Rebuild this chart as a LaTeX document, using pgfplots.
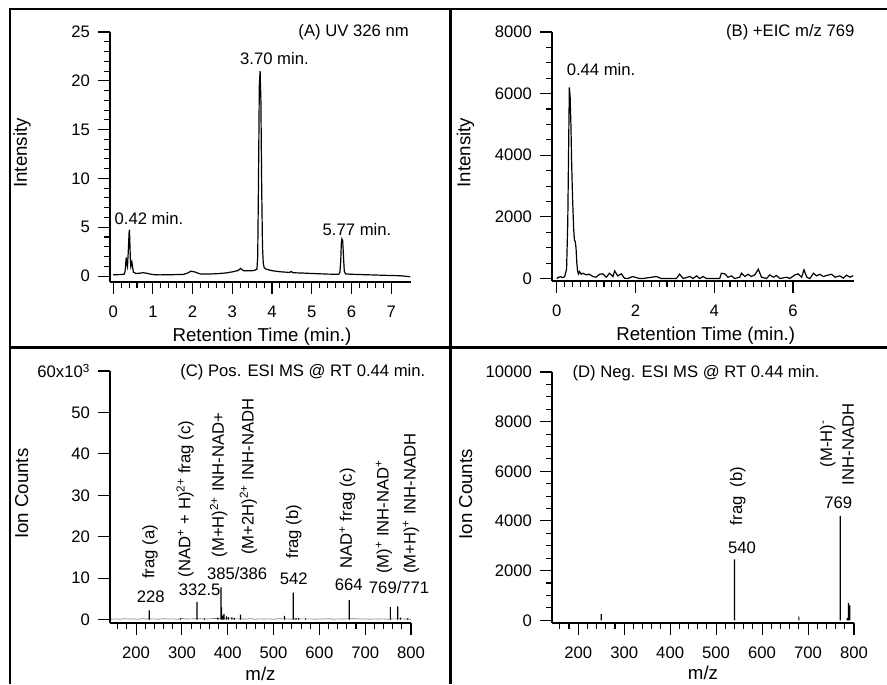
\documentclass[border=0pt]{standalone}
\usepackage{fontspec}
\setmainfont{Liberation Sans}
\usepackage{pgfplots}
\pgfplotsset{compat=1.18}

\newcommand\af{\fontsize{12.5}{14}\selectfont}

% Igor-like look: open axes, ticks outside
\pgfplotsset{
  igor/.style={
    scale only axis, clip=false,
    axis x line=bottom, axis y line=left,
    axis line style={-, line width=1.1pt},
    tick align=outside,
    major tick length=9pt, minor tick length=4.5pt,
    every tick/.style={black, line width=0.8pt},
    tick label style={font=\af},
    label style={font=\fontsize{14}{16}\selectfont},
    xticklabel style={yshift=-5.5pt},
    yticklabel style={xshift=-2.5pt},
    /pgf/number format/assume math mode=true,
    /pgf/number format/1000 sep={},
    scaled ticks=false,
    anchor=south west,
  },
}
\tikzset{rot/.style={rotate=90, anchor=west, inner sep=0pt, font=\af}}

\begin{document}
\begin{tikzpicture}
\useasboundingbox (0,0) rectangle (665.25pt,513pt);

% (A) UV trace
\begin{axis}[igor, at={(82.5pt,301.5pt)}, width=225.75pt, height=187.5pt,
  xmin=-0.08, xmax=7.5, ymin=-0.61, ymax=25,
  xtick={0,1,...,7}, minor x tick num=4,
  ytick={0,5,...,25}, minor y tick num=4,
  xlabel={Retention Time (min.)}, ylabel={Intensity},
  xlabel style={at={(axis description cs:0.505,-0.218)}, anchor=center},
  ylabel style={at={(axis description cs:-0.292,0.516)}, anchor=center},
]
\addplot[black, line width=0.9pt] coordinates {
 (0,0.12)(0.10,0.14)(0.20,0.15)(0.28,0.2)(0.30,0.5)(0.32,1.5)(0.33,1.9)(0.345,1.2)
 (0.36,0.95)(0.38,2.5)(0.40,4.4)(0.41,4.75)(0.42,3.5)(0.435,1.4)(0.445,1.0)(0.46,1.3)
 (0.47,1.45)(0.49,0.9)(0.51,0.4)(0.57,0.27)(0.65,0.28)(0.76,0.34)(0.85,0.28)(0.93,0.2)
 (1.05,0.13)(1.18,0.12)(1.5,0.14)(1.77,0.17)(1.87,0.3)(1.96,0.5)(2.07,0.4)(2.20,0.2)
 (2.40,0.2)(2.61,0.24)(2.85,0.32)(3.03,0.45)(3.15,0.58)(3.21,0.78)(3.28,0.55)(3.40,0.53)
 (3.55,0.56)(3.62,0.7)(3.64,2)(3.66,10)(3.68,19.5)(3.70,21)(3.72,18)(3.74,9)(3.76,3)
 (3.78,1.3)(3.80,0.9)(3.85,0.7)(4.0,0.55)(4.2,0.44)(4.44,0.37)(4.48,0.47)(4.53,0.34)
 (4.8,0.3)(5.13,0.24)(5.4,0.2)(5.68,0.17)(5.71,0.4)(5.73,1.5)(5.745,3.3)(5.76,3.8)
 (5.78,3.6)(5.80,2.0)(5.82,0.5)(5.85,0.22)(6.0,0.18)(6.39,0.13)(6.8,0.08)(7.23,0.03)(7.48,-0.07)};
\node[anchor=east, font=\af] at (axis cs:7.56,25) {(A) UV 326 nm};
\node[font=\af] at (axis cs:4.06,22.3) {3.70 min.};
\node[font=\af] at (axis cs:0.90,5.84) {0.42 min.};
\node[font=\af] at (axis cs:6.14,4.8) {5.77 min.};
\end{axis}

% (B) EIC
\begin{axis}[igor, at={(414pt,302.25pt)}, width=226.5pt, height=186.75pt,
  xmin=-0.12, xmax=7.55, ymin=-80, ymax=8000,
  xtick={0,2,4,6}, minor x tick num=9,
  ytick={0,2000,...,8000}, minor y tick num=3,
  xlabel={Retention Time (min.)}, ylabel={Intensity},
  xlabel style={at={(axis description cs:0.509,-0.218)}, anchor=center},
  ylabel style={at={(axis description cs:-0.286,0.516)}, anchor=center},
]
\addplot[black, line width=0.9pt] coordinates {
 (0,0)(0.05,40)(0.1,60)(0.15,30)(0.2,60)(0.25,300)(0.28,1800)(0.30,4000)(0.32,6200)
 (0.34,5900)(0.36,5000)(0.38,3700)(0.40,2700)(0.43,1600)(0.45,1250)(0.47,1200)(0.49,1000)
 (0.51,500)(0.53,250)(0.55,150)(0.578,226)(0.62,140)(0.66,173)(0.75,119)(0.83,140)(0.92,65)
 (1.00,43)(1.09,140)(1.17,151)(1.26,43)(1.34,173)(1.43,65)(1.47,249)(1.55,86)(1.64,151)
 (1.72,11)(1.81,0)(1.93,65)(2.10,0)(2.19,0)(2.53,65)(2.66,0)(3.04,0)(3.12,140)(3.21,0)
 (3.38,65)(3.46,0)(3.55,86)(3.63,0)(3.72,65)(3.80,0)(4.14,0)(4.18,173)(4.27,151)(4.35,43)
 (4.44,86)(4.52,0)(4.65,43)(4.69,173)(4.78,65)(4.86,140)(4.94,65)(5.03,119)(5.12,303)
 (5.20,43)(5.33,0)(5.41,119)(5.50,43)(5.58,97)(5.67,0)(5.84,43)(5.92,0)(6.05,119)(6.13,151)
 (6.22,43)(6.28,282)(6.35,43)(6.43,0)(6.52,173)(6.60,86)(6.68,140)(6.77,65)(6.85,97)
 (6.98,140)(7.07,43)(7.19,86)(7.28,11)(7.36,108)(7.45,43)(7.53,97)};
\node[anchor=east, font=\af] at (axis cs:7.68,8000) {(B) +EIC m/z 769};
\node[font=\af] at (axis cs:1.125,6780) {0.44 min.};
\end{axis}

% (C) positive ESI MS, ion counts in thousands
\begin{axis}[igor, at={(82.5pt,45.75pt)}, width=225.75pt, height=189pt,
  xmin=143, xmax=800, ymin=-0.8, ymax=60,
  xtick={200,300,...,800}, minor xtick={160,180,...,800},
  ytick={0,10,...,60}, yticklabels={0,10,20,30,40,50,60x10\textsuperscript{3}},
  xlabel={m/z}, ylabel={Ion Counts},
  xlabel style={at={(axis description cs:0.50,-0.200)}, anchor=center},
  ylabel style={at={(axis description cs:-0.293,0.513)}, anchor=center},
]
\addplot[gray, line width=0.5pt] coordinates {
 (145,0.1)(155,0.2)(165,0.1)(175,0.25)(185,0.15)(195,0.2)(205,0.1)(215,0.25)(225,0.15)
 (240,0.2)(250,0.1)(260,0.25)(270,0.15)(280,0.2)(290,0.1)(300,0.3)(310,0.15)(320,0.2)
 (340,0.25)(350,0.15)(360,0.2)(370,0.3)(420,0.2)(440,0.15)(450,0.25)(460,0.1)(470,0.2)
 (480,0.15)(490,0.2)(500,0.1)(510,0.25)(520,0.2)(535,0.15)(560,0.2)(580,0.2)(590,0.1)
 (600,0.2)(610,0.15)(620,0.25)(630,0.1)(640,0.2)(650,0.15)(660,0.2)(680,0.25)(690,0.15)
 (700,0.2)(710,0.1)(720,0.2)(730,0.15)(740,0.2)(750,0.1)(760,0.2)(780,0.2)(790,0.15)(800,0.1)};
\addplot[ybar, bar width=0.9pt, bar shift=0pt, fill=black, draw=none] coordinates {
 (228.5,2.25)(297,0.3)(333,4.3)(349,0.3)(378,0.5)(385.4,7.8)(386.5,3.0)(389,1.0)(392,1.4)
 (397,0.8)(401,0.6)(409,0.6)(414,0.4)(428,1.2)(524,0.9)(543,6.5)(549,0.4)(555,0.35)
 (570,0.3)(665,4.7)(755,3.05)(771,3.2)(777,0.5)(793,0.3)};
\node[anchor=east, font=\af] at (axis cs:841.6,59.7) {(C) Pos. ESI MS @ RT 0.44 min.};
\node[rot] at (axis cs:230.6,9.8) {frag (a)};
\node[rot] at (axis cs:307,10.2) {(NAD\textsuperscript{+} + H)\textsuperscript{2+} frag (c)};
\node[rot] at (axis cs:380,15) {(M+H)\textsuperscript{2+} INH-NAD+};
\node[rot] at (axis cs:445,15.6) {(M+2H)\textsuperscript{2+} INH-NADH};
\node[rot] at (axis cs:544,14.7) {frag (b)};
\node[rot] at (axis cs:661,12.3) {NAD\textsuperscript{+} frag (c)};
\node[rot] at (axis cs:741,11) {(M)\textsuperscript{+} INH-NAD\textsuperscript{+}};
\node[rot] at (axis cs:800,11) {(M+H)\textsuperscript{+} INH-NADH};
\node[font=\af] at (axis cs:232,5.6) {228};
\node[font=\af] at (axis cs:338.6,7.3) {332.5};
\node[font=\af] at (axis cs:420.5,11.2) {385/386};
\node[font=\af] at (axis cs:544,9.8) {542};
\node[font=\af] at (axis cs:664,8.4) {664};
\node[font=\af] at (axis cs:774,7.8) {769/771};
\end{axis}

% (D) negative ESI MS
\begin{axis}[igor, at={(414pt,45.75pt)}, width=226.5pt, height=188.25pt,
  xmin=143, xmax=800, ymin=-110, ymax=10000,
  xtick={200,300,...,800}, minor xtick={160,180,...,800},
  ytick={0,2000,...,10000}, minor y tick num=3,
  xlabel={m/z}, ylabel={Ion Counts},
  xlabel style={at={(axis description cs:0.50,-0.200)}, anchor=center},
  ylabel style={at={(axis description cs:-0.286,0.513)}, anchor=center},
]
\addplot[ybar, bar width=0.9pt, bar shift=0pt, fill=black, draw=none] coordinates {
 (250,250)(540,2450)(680,150)(770,4200)(785,100)(788,700)(791,600)};
\node[anchor=west, font=\af] at (axis cs:177.5,9971) {(D) Neg. ESI MS @ RT 0.44 min.};
\node[rot] at (axis cs:547,3825) {frag~~(b)};
\node[font=\af] at (axis cs:556.5,2925) {540};
\node[rot] at (axis cs:743,6160) {(M-H)\textsuperscript{-}};
\node[rot] at (axis cs:787,5430) {INH-NADH};
\node[font=\af] at (axis cs:765.7,4715) {769};
\end{axis}

% panel frame and dividers
\draw[line width=1.5pt] (7.5pt,0pt) -- (7.5pt,506.5pt) -- (665.25pt,506.5pt);
\draw[line width=2.25pt] (7.5pt,252.4pt) -- (665.25pt,252.4pt);
\draw[line width=2.25pt] (337.5pt,0pt) -- (337.5pt,506.5pt);
\end{tikzpicture}
\end{document}
